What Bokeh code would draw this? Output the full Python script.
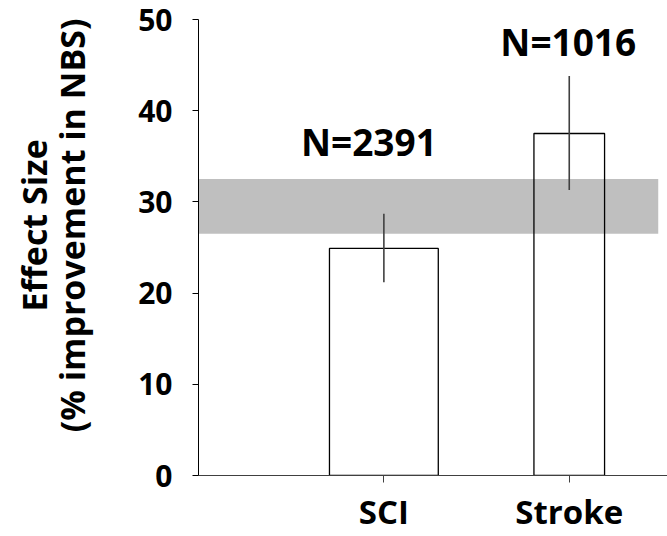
from bokeh.plotting import figure
from bokeh.models import ColumnDataSource, Range1d, FixedTicker, BoxAnnotation, LinearAxis
from bokeh.core.properties import value
from bokeh.embed import file_html
from bokeh.resources import INLINE

# ---- data ----
categories = ["SCI", "Stroke"]
effect = [24.9, 37.5]
err_low = [21.2, 31.3]
err_high = [28.7, 43.8]
n_labels = ["N=2391", "N=1016"]
band_low = 26.5
band_high = 32.5
y_ticks = [0, 10, 20, 30, 40, 50]
y_title = ["Effect Size", "(% improvement in NBS)"]

# ---- styling ----
FONT = "Open Sans"
PAD = "\u00a0" * 5   # shifts the rotated titles slightly upward
xpos = [i + 1 for i in range(len(categories))]
bar_widths = [0.587, 0.381]
label_xoff = [-15, -1]
label_yoff = [-72, -35]

src = ColumnDataSource(dict(x=xpos, top=effect, lo=err_low, hi=err_high,
                            w=bar_widths, lab=n_labels, xo=label_xoff, yo=label_yoff))

p = figure(width=667, height=536, output_backend="svg", toolbar_location=None,
           x_range=Range1d(0, 2.53), y_range=Range1d(0, 50),
           min_border_left=198, min_border_right=0, min_border_top=19, min_border_bottom=56)
p.outline_line_color = None
p.grid.visible = False
p.background_fill_color = "white"
p.border_fill_color = "white"

band = BoxAnnotation(bottom=band_low, top=band_high, left=0, right=2.48,
                     fill_color="#bfbfbf", fill_alpha=1.0, line_color=None, level="underlay")
p.add_layout(band)

p.vbar(x="x", top="top", width="w", bottom=0, source=src,
       fill_alpha=0, line_color="black", line_width=1.3)
p.segment(x0="x", y0="lo", x1="x", y1="hi", source=src, line_color="#404040", line_width=1.6)

p.text(x="x", y="hi", text="lab", source=src, x_offset="xo", y_offset="yo",
       text_font=value(FONT), text_font_style="bold", text_font_size="37px",
       text_align="center", text_baseline="alphabetic", text_color="black")

# y axis
yax = p.yaxis[0]
yax.ticker = FixedTicker(ticks=y_ticks)
yax.minor_tick_line_color = None
yax.major_tick_in = 0
yax.major_tick_out = 6
yax.axis_line_color = "black"
yax.major_tick_line_color = "black"
yax.major_label_text_font = FONT
yax.major_label_text_font_style = "bold"
yax.major_label_text_font_size = "30px"
yax.major_label_text_color = "black"
yax.major_label_standoff = 20
yax.axis_label = PAD + y_title[1]
yax.axis_label_text_font = FONT
yax.axis_label_text_font_style = "bold"
yax.axis_label_text_font_size = "34px"
yax.axis_label_text_color = "black"
yax.axis_label_standoff = 40

# outer title line on a second, bare axis
outer = LinearAxis(ticker=FixedTicker(ticks=[]), axis_label=PAD + y_title[0],
                   axis_line_color=None, major_tick_line_color=None,
                   minor_tick_line_color=None, major_label_text_font_size="0px",
                   axis_label_text_font=FONT, axis_label_text_font_style="bold",
                   axis_label_text_font_size="34px", axis_label_text_color="black",
                   axis_label_standoff=-10)
p.add_layout(outer, "left")

# x axis
xax = p.xaxis[0]
xax.ticker = FixedTicker(ticks=xpos)
xax.major_label_overrides = {x: c for x, c in zip(xpos, categories)}
xax.minor_tick_line_color = None
xax.major_tick_in = 0
xax.major_tick_out = 7
xax.axis_line_color = "#404040"
xax.major_tick_line_color = "#404040"
xax.major_label_text_font = FONT
xax.major_label_text_font_style = "bold"
xax.major_label_text_font_size = "33px"
xax.major_label_text_color = "black"
xax.major_label_standoff = 6

open("out.html", "w").write(file_html(p, INLINE))
